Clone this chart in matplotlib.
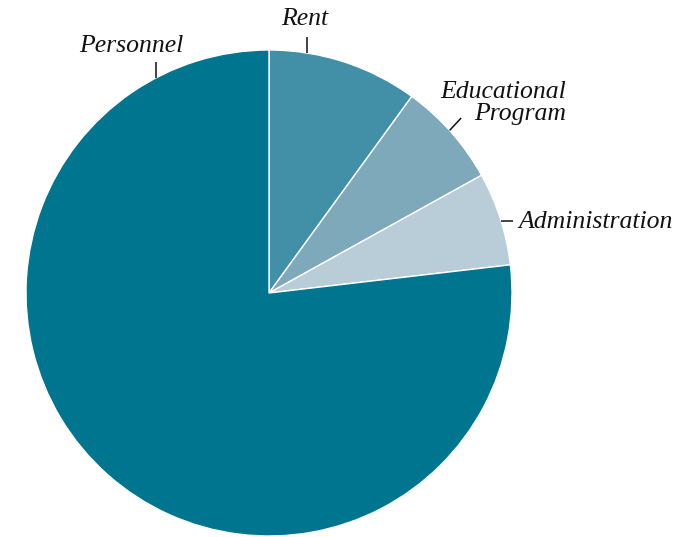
import numpy as np
import matplotlib
matplotlib.use("Agg")
import matplotlib.pyplot as plt

categories = ["Rent", "Educational\nProgram", "Administration", "Personnel"]
values = [10.0, 6.95, 6.2, 76.85]
colors = ["#4190a8", "#7ea9bb", "#b8cdd7", "#00758f"]

W, H = 673, 537
fig = plt.figure(figsize=(W / 100, H / 100), dpi=100)
ax = fig.add_axes([0, 0, 1, 1])

cx, cy, R = 269, H - 293, 243
ax.pie(values, colors=colors, startangle=90, counterclock=False,
       center=(cx, cy), radius=R,
       wedgeprops=dict(edgecolor="white", linewidth=1.0))
ax.set_xlim(0, W)
ax.set_ylim(0, H)
ax.set_aspect("equal")
ax.axis("off")

font = dict(family=["Liberation Serif", "DejaVu Serif"], style="italic", size=18.5, color="#111111")

# leader ticks: (angle deg on rim, direction deg, length px)
leaders = {
    "Personnel": (117.7, 90, 16),
    "Rent": (81.0, 90, 16),
    "Educational\nProgram": (42.0, 47, 17),
    "Administration": (17.2, 0, 12),
}
for name, (a, d, L) in leaders.items():
    x0 = cx + R * np.cos(np.radians(a))
    y0 = cy + R * np.sin(np.radians(a))
    x1 = x0 + L * np.cos(np.radians(d))
    y1 = y0 + L * np.sin(np.radians(d))
    ax.plot([x0, x1], [y0, y1], color="#111111", lw=1.1, solid_capstyle="butt")

ax.text(131, H - 46, "Personnel", ha="center", va="center", **font)
ax.text(305, H - 19, "Rent", ha="center", va="center", **font)
ax.text(566, H - 103, "Educational\nProgram", ha="right", va="center",
        linespacing=0.95, multialignment="right", **font)
ax.text(518, H - 222, "Administration", ha="left", va="center", **font)

fig.savefig("out.png", dpi=100)
